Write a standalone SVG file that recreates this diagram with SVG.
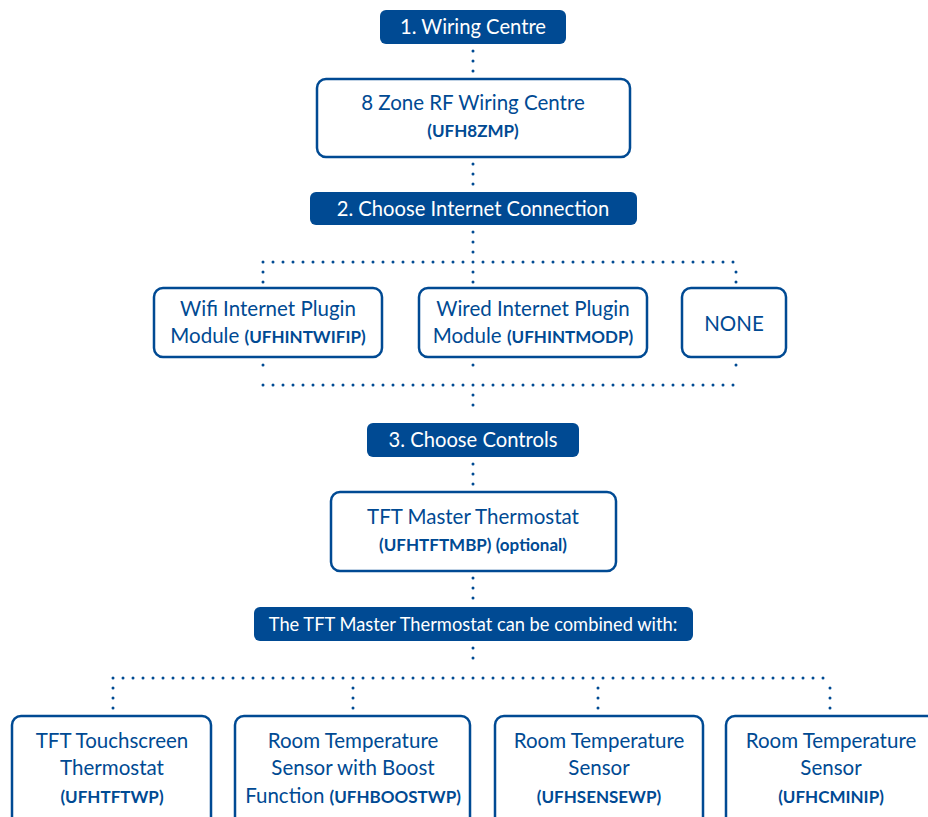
<svg xmlns="http://www.w3.org/2000/svg" width="928" height="817" viewBox="0 0 928 817">
<style>
.hdr{fill:#004a93}
.box{fill:#fff;stroke:#004a93;stroke-width:2.5}
.ht{fill:#fff;font-family:Lato,"Noto Sans",sans-serif;font-size:20.2px;text-anchor:middle}
.t{fill:#004a93;font-family:Lato,"Noto Sans",sans-serif;font-size:20.5px;text-anchor:middle}
.b{font-weight:bold;font-size:17px}
.dot{fill:none;stroke:#004a93;stroke-width:3;stroke-linecap:round;stroke-dasharray:0 10}
</style>
<rect width="928" height="817" fill="#fff"/>
<g id="connectors">
<path class="dot" d="M473 51V75"/>
<path class="dot" d="M473 164V188"/>
<path class="dot" d="M473 232V262"/>
<path class="dot" d="M263 262H736"/>
<path class="dot" d="M263 272V284M473 272V284M736 272V284"/>
<path class="dot" d="M263 365V375M473 365V375M736 365V375"/>
<path class="dot" d="M263 385H736"/>
<path class="dot" d="M473 395V415"/>
<path class="dot" d="M473 464V488"/>
<path class="dot" d="M473 578V602"/>
<path class="dot" d="M473 648V668"/>
<path class="dot" d="M113 678H830"/>
<path class="dot" d="M113 688V712M353 688V712M598 688V712M830 688V712"/>
</g>
<g id="h1"><rect class="hdr" x="380" y="10" width="186" height="34" rx="6"/><text class="ht" x="473" y="34">1. Wiring Centre</text></g>
<g id="n1"><rect class="box" x="317" y="79" width="313" height="78" rx="9"/><text class="t" x="473" y="110">8 Zone RF Wiring Centre</text><text class="t b" x="473" y="137">(UFH8ZMP)</text></g>
<g id="h2"><rect class="hdr" x="310" y="192" width="327" height="33" rx="6"/><text class="ht" x="473" y="216">2. Choose Internet Connection</text></g>
<g id="wifi"><rect class="box" x="154" y="288" width="228" height="69" rx="9"/><text class="t" x="268" y="316">Wifi Internet Plugin</text><text class="t" x="268" y="343">Module <tspan class="b">(UFHINTWIFIP)</tspan></text></g>
<g id="wired"><rect class="box" x="419" y="288" width="228" height="69" rx="9"/><text class="t" x="533" y="316">Wired Internet Plugin</text><text class="t" x="533" y="343">Module <tspan class="b">(UFHINTMODP)</tspan></text></g>
<g id="none"><rect class="box" x="682" y="288" width="104" height="69" rx="9"/><text class="t" x="734" y="331">NONE</text></g>
<g id="h3"><rect class="hdr" x="367" y="423" width="212" height="34" rx="6"/><text class="ht" x="473" y="447">3. Choose Controls</text></g>
<g id="master"><rect class="box" x="331" y="492" width="285" height="79" rx="9"/><text class="t" x="473" y="524">TFT Master Thermostat</text><text class="t b" x="473" y="551">(UFHTFTMBP) (optional)</text></g>
<g id="h4"><rect class="hdr" x="254" y="607" width="439" height="34" rx="6"/><text class="ht" x="473" y="631" style="font-size:18.3px">The TFT Master Thermostat can be combined with:</text></g>
<g id="c1"><rect class="box" x="12" y="716" width="199" height="110" rx="9"/><text class="t" x="112" y="748">TFT Touchscreen</text><text class="t" x="112" y="775">Thermostat</text><text class="t b" x="112" y="803">(UFHTFTWP)</text></g>
<g id="c2"><rect class="box" x="235" y="716" width="235" height="110" rx="9"/><text class="t" x="353" y="748">Room Temperature</text><text class="t" x="353" y="775">Sensor with Boost</text><text class="t" x="353" y="803">Function <tspan class="b">(UFHBOOSTWP)</tspan></text></g>
<g id="c3"><rect class="box" x="495" y="716" width="208" height="110" rx="9"/><text class="t" x="599" y="748">Room Temperature</text><text class="t" x="599" y="775">Sensor</text><text class="t b" x="599" y="803">(UFHSENSEWP)</text></g>
<g id="c4"><rect class="box" x="726" y="716" width="215" height="110" rx="9"/><text class="t" x="831" y="748">Room Temperature</text><text class="t" x="831" y="775">Sensor</text><text class="t b" x="831" y="803">(UFHCMINIP)</text></g>
</svg>
